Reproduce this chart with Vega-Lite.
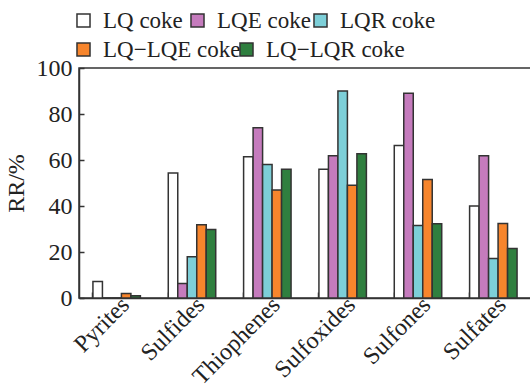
{
  "$schema": "https://vega.github.io/schema/vega-lite/v6.json",
  "autosize": "none",
  "padding": {"left": 79, "top": 68, "right": 0, "bottom": 94},
  "width": 452,
  "height": 230,
  "config": {
    "font": "Liberation Serif",
    "view": {"stroke": "#333333", "strokeWidth": 1.5},
    "legend": {
      "labelFont": "Liberation Serif",
      "labelFontSize": 23,
      "labelColor": "#222222",
      "labelOffset": 8,
      "labelLimit": 300,
      "symbolType": "square",
      "symbolSize": 170,
      "symbolStrokeColor": "#333333",
      "symbolStrokeWidth": 1.5,
      "symbolOpacity": 1,
      "orient": "none",
      "direction": "horizontal"
    }
  },
  "data": {
    "values": [
      {"category": "Pyrites", "series": "LQ coke", "value": 7.2},
      {"category": "Pyrites", "series": "LQE coke", "value": 0},
      {"category": "Pyrites", "series": "LQR coke", "value": 0},
      {"category": "Pyrites", "series": "LQ−LQE coke", "value": 2},
      {"category": "Pyrites", "series": "LQ−LQR coke", "value": 1},
      {"category": "Sulfides", "series": "LQ coke", "value": 54.4},
      {"category": "Sulfides", "series": "LQE coke", "value": 6.3},
      {"category": "Sulfides", "series": "LQR coke", "value": 17.9},
      {"category": "Sulfides", "series": "LQ−LQE coke", "value": 31.9},
      {"category": "Sulfides", "series": "LQ−LQR coke", "value": 29.8},
      {"category": "Thiophenes", "series": "LQ coke", "value": 61.4},
      {"category": "Thiophenes", "series": "LQE coke", "value": 74},
      {"category": "Thiophenes", "series": "LQR coke", "value": 58},
      {"category": "Thiophenes", "series": "LQ−LQE coke", "value": 47},
      {"category": "Thiophenes", "series": "LQ−LQR coke", "value": 56},
      {"category": "Sulfoxides", "series": "LQ coke", "value": 56},
      {"category": "Sulfoxides", "series": "LQE coke", "value": 61.8},
      {"category": "Sulfoxides", "series": "LQR coke", "value": 90},
      {"category": "Sulfoxides", "series": "LQ−LQE coke", "value": 49},
      {"category": "Sulfoxides", "series": "LQ−LQR coke", "value": 62.7},
      {"category": "Sulfones", "series": "LQ coke", "value": 66.3},
      {"category": "Sulfones", "series": "LQE coke", "value": 89},
      {"category": "Sulfones", "series": "LQR coke", "value": 31.5},
      {"category": "Sulfones", "series": "LQ−LQE coke", "value": 51.5},
      {"category": "Sulfones", "series": "LQ−LQR coke", "value": 32.3},
      {"category": "Sulfates", "series": "LQ coke", "value": 40},
      {"category": "Sulfates", "series": "LQE coke", "value": 61.8},
      {"category": "Sulfates", "series": "LQR coke", "value": 17.2},
      {"category": "Sulfates", "series": "LQ−LQE coke", "value": 32.4},
      {"category": "Sulfates", "series": "LQ−LQR coke", "value": 21.5}
    ]
  },
  "encoding": {
    "x": {
      "field": "category",
      "type": "nominal",
      "sort": null,
      "scale": {"paddingInner": 0.37, "paddingOuter": 0.185},
      "axis": {
        "title": null,
        "labelAngle": -45,
        "labelAlign": "right",
        "labelBaseline": "middle",
        "labelFont": "Liberation Serif",
        "labelFontSize": 24,
        "labelColor": "#222222",
        "labelPadding": 9,
        "labelOffset": 9,
        "tickSize": -6,
        "tickColor": "#333333",
        "tickWidth": 1.5,
        "bandPosition": 0,
        "domainColor": "#333333",
        "domainWidth": 1.5
      }
    },
    "xOffset": {"field": "series", "type": "nominal", "sort": null, "scale": {"paddingInner": 0, "paddingOuter": 0}},
    "y": {
      "field": "value",
      "type": "quantitative",
      "scale": {"domain": [0, 100], "nice": false},
      "axis": {
        "title": "RR/%",
        "titleFont": "Liberation Serif",
        "titleFontSize": 24,
        "titleFontWeight": "normal",
        "titleColor": "#222222",
        "titlePadding": 8,
        "values": [0, 20, 40, 60, 80, 100],
        "labelFont": "Liberation Serif",
        "labelFontSize": 24,
        "labelColor": "#222222",
        "labelPadding": 12,
        "tickSize": -5,
        "tickColor": "#333333",
        "tickWidth": 1.5,
        "domainColor": "#333333",
        "domainWidth": 1.5,
        "grid": false
      }
    }
  },
  "layer": [
    {
      "mark": {"type": "bar", "opacity": 0},
      "encoding": {
        "fill": {
          "field": "series", "type": "nominal", "sort": null,
          "scale": {"domain": ["LQ coke", "LQE coke", "LQR coke", "LQ−LQE coke", "LQ−LQR coke"], "range": ["#ffffff", "#c57bbd", "#7dcfd8", "#f7852c", "#2f7f3f"]},
          "legend": {"title": null, "legendX": 107, "legendY": -59, "values": ["LQE coke"], "encode": {"symbols": {"update": {"opacity": {"value": 1}}}}}
        }
      }
    },
    {
      "mark": {"type": "bar", "opacity": 0},
      "encoding": {
        "fill": {
          "field": "series", "type": "nominal", "sort": null,
          "scale": {"domain": ["LQ coke", "LQE coke", "LQR coke", "LQ−LQE coke", "LQ−LQR coke"], "range": ["#ffffff", "#c57bbd", "#7dcfd8", "#f7852c", "#2f7f3f"]},
          "legend": {"title": null, "legendX": 230, "legendY": -59, "values": ["LQR coke"], "encode": {"symbols": {"update": {"opacity": {"value": 1}}}}}
        }
      }
    },
    {
      "mark": {"type": "bar", "opacity": 0},
      "encoding": {
        "fill": {
          "field": "series", "type": "nominal", "sort": null,
          "scale": {"domain": ["LQ coke", "LQE coke", "LQR coke", "LQ−LQE coke", "LQ−LQR coke"], "range": ["#ffffff", "#c57bbd", "#7dcfd8", "#f7852c", "#2f7f3f"]},
          "legend": {"title": null, "legendX": -7, "legendY": -30, "values": ["LQ−LQE coke"], "encode": {"symbols": {"update": {"opacity": {"value": 1}}}}}
        }
      }
    },
    {
      "mark": {"type": "bar", "opacity": 0},
      "encoding": {
        "fill": {
          "field": "series", "type": "nominal", "sort": null,
          "scale": {"domain": ["LQ coke", "LQE coke", "LQR coke", "LQ−LQE coke", "LQ−LQR coke"], "range": ["#ffffff", "#c57bbd", "#7dcfd8", "#f7852c", "#2f7f3f"]},
          "legend": {"title": null, "legendX": 156, "legendY": -30, "values": ["LQ−LQR coke"], "encode": {"symbols": {"update": {"opacity": {"value": 1}}}}}
        }
      }
    },
    {
      "mark": {"type": "bar", "stroke": "#333333", "strokeWidth": 1.5},
      "encoding": {
        "fill": {
          "field": "series", "type": "nominal", "sort": null,
          "scale": {"domain": ["LQ coke", "LQE coke", "LQR coke", "LQ−LQE coke", "LQ−LQR coke"], "range": ["#ffffff", "#c57bbd", "#7dcfd8", "#f7852c", "#2f7f3f"]},
          "legend": {"title": null, "legendX": -7, "legendY": -59, "values": ["LQ coke"]}
        }
      }
    }
  ],
  "resolve": {"scale": {"fill": "independent"}, "legend": {"fill": "independent"}}
}
